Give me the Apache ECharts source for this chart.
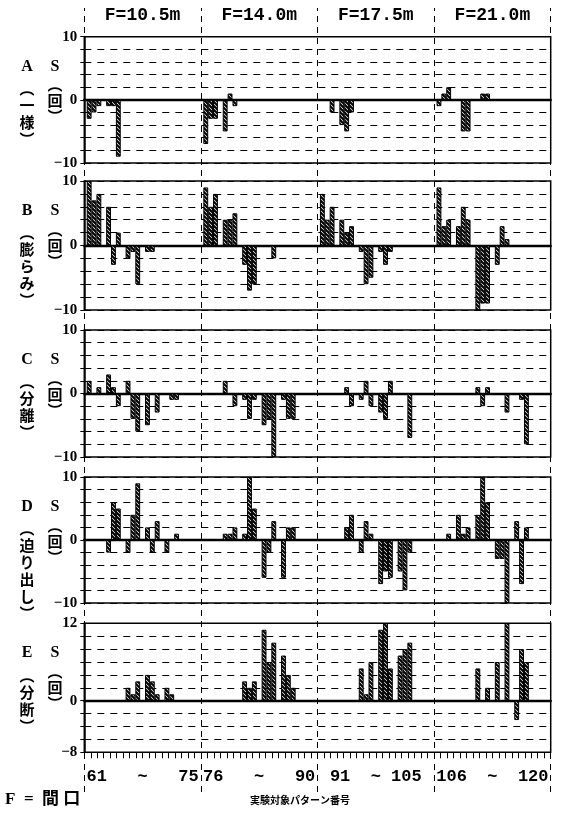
<!DOCTYPE html>
<html><head><meta charset="utf-8">
<script src="https://cdn.jsdelivr.net/npm/echarts@6/dist/echarts.min.js"></script>
<style>html,body{margin:0;padding:0;background:#fff}#c{width:562px;height:813px}</style>
</head><body><div id="c"></div>
<script>
// ---------- data ----------
const groupNames = ['F=10.5m', 'F=14.0m', 'F=17.5m', 'F=21.0m'];
const rangeLabels = ['61   ~   75', '76   ~   90', '91  ~ 105', '106  ~  120'];
const panelLetters = ['A', 'B', 'C', 'D', 'E'];
const panelNames = ['一様', '膨らみ', '分離', '迫り出し', '分断'];
const yMins = [-10, -10, -10, -10, -8];
const yMaxs = [10, 10, 10, 10, 12];
const yLabelValues = [[10, 0, -10], [10, 0, -10], [10, 0, -10], [10, 0, -10], [12, 0, -8]];

// patterns 61..120, in order (15 per F group)
const valuesA = [
  -3, -2, -1, -1, -1, -9, 0, 0, 0, 0, 0, 0, 0, 0, 0,
  -7, -3, -3, -5, 1, -1, 0, 0, 0, 0, 0, 0, 0, 0, 0,
  0, 0, -2, -4, -5, -2, 0, 0, 0, 0, 0, 0, 0, 0, 0,
  -1, 1, 2, 0, -5, -5, 0, 1, 1, 0, 0, 0, 0, 0, 0
];
const valuesB = [
  10, 7, 8, 6, -3, 2, -2, -1, -6, -1, -1, 0, 0, 0, 0,
  9, 6, 8, 4, 4, 5, -3, -7, -6, 0, 0, -2, 0, 0, 0,
  8, 4, 6, 4, 2, 3, -1, -6, -5, -1, -3, -1, 0, 0, 0,
  9, 3, 4, 3, 6, 4, -10, -9, -9, -3, 3, 1, 0, 0, 0
];
const valuesC = [
  2, 0, 1, 3, 1, -2, 2, -4, -6, -5, 0, -3, 0, -1, -1,
  0, 0, 0, 2, 0, -2, -1, -4, -1, -5, -4, -10, -1, -4, -4,
  0, 0, 0, 0, 1, -2, -1, 2, -2, -3, -4, 2, 0, 0, -7,
  0, 0, 0, 0, 0, 0, 1, -2, 1, 0, 0, -3, 0, -1, -8
];
const valuesD = [
  0, 0, 0, -2, 6, 5, -2, 4, 9, 2, -2, 3, -2, 0, 1,
  0, 0, 0, 1, 1, 2, 1, 10, 5, -6, -2, 3, -6, 2, 2,
  0, 0, 0, 0, 2, 4, -2, 3, 1, -7, -5, -6, -5, -8, -2,
  0, 0, 1, 4, 1, 2, 4, 10, 6, -3, -3, -10, 3, -7, 2
];
const valuesE = [
  0, 0, 0, 0, 0, 0, 2, 1, 3, 4, 3, 1, 2, 1, 0,
  0, 0, 0, 0, 0, 0, 3, 2, 3, 11, 6, 9, 7, 4, 2,
  0, 0, 0, 0, 0, 0, 5, 1, 6, 11, 12, 5, 7, 8, 9,
  0, 0, 0, 0, 0, 0, 5, 0, 2, 6, 0, 12, -3, 8, 6
];
const panels = [valuesA, valuesB, valuesC, valuesD, valuesE];

// ---------- layout ----------
const L = 84.3, W = 466.4;
const tops = [36.7, 181, 330, 477, 623.3];
const heights = [126.3, 129, 127, 126, 129];
const SLOTS = 97;              // 24 slots per F group, boundaryGap false
const slotCats = Array.from({ length: SLOTS }, (_, j) => String(j));
const slotPx = W / (SLOTS - 1);

function toSlots(values) {
  const arr = new Array(SLOTS).fill('-');
  values.forEach((v, i) => {
    const g = Math.floor(i / 15), r = i % 15;
    const slot = 24 * g + 1 + Math.floor(r / 3) * 4 + (r % 3);
    arr[slot] = v === 0 ? '-' : v;
  });
  return arr;
}

// hatch pattern
const pc = document.createElement('canvas');
pc.width = 4; pc.height = 4;
const px = pc.getContext('2d');
px.fillStyle = '#fff'; px.fillRect(0, 0, 4, 4);
px.strokeStyle = '#000'; px.lineWidth = 2.1;
px.beginPath();
px.moveTo(-1, -1); px.lineTo(5, 5);
px.moveTo(-1, 3); px.lineTo(1, 5);
px.moveTo(3, -1); px.lineTo(5, 1);
px.stroke();
const hatch = { image: pc, repeat: 'repeat' };

const grids = [], xAxes = [], yAxes = [], series = [], graphics = [];
const monoFont = 'Liberation Mono';
const serifFont = 'Liberation Serif';

panels.forEach((vals, p) => {
  grids.push({ left: L, width: W, top: tops[p], height: heights[p], show: true,
    borderColor: '#000', borderWidth: 1.5, backgroundColor: 'transparent' });
  xAxes.push({ gridIndex: p, type: 'category', data: slotCats, boundaryGap: false,
    axisLine: { onZero: true, lineStyle: { color: '#000', width: 2.4 } },
    axisTick: { show: false }, axisLabel: { show: false }, splitLine: { show: false } });
  const labs = yLabelValues[p];
  yAxes.push({ gridIndex: p, type: 'value', min: yMins[p], max: yMaxs[p], interval: 2,
    axisLine: { show: true, lineStyle: { color: '#000', width: 1.5 } },
    axisTick: { show: true, length: 4, lineStyle: { color: '#000' } },
    splitLine: { show: true, lineStyle: { color: '#000', type: [7, 6], width: 1 } },
    axisLabel: { color: '#000', fontFamily: serifFont, fontWeight: 'bold', fontSize: 15, margin: 7,
      showMinLabel: true, showMaxLabel: true,
      formatter: v => labs.indexOf(v) >= 0 ? String(v).replace('-', '−') : '' } });
  series.push({ type: 'bar', xAxisIndex: p, yAxisIndex: p, data: toSlots(vals),
    barWidth: slotPx, silent: true, animation: false,
    itemStyle: { color: hatch, borderColor: '#000', borderWidth: 1 } });

  const t = tops[p];
  graphics.push({ type: 'text', x: 27, y: t + 22, style: { text: panelLetters[p],
    font: 'bold 16px "Liberation Serif"', fill: '#000', textAlign: 'center' } });
  graphics.push({ type: 'text', x: 55, y: t + 22, style: { text: 'S',
    font: 'bold 16px "Liberation Serif"', fill: '#000', textAlign: 'center' } });
  graphics.push({ type: 'text', x: 27, y: t + 43, style: {
    text: ['︵'].concat(panelNames[p].split('')).concat(['︶']).join('\n'),
    font: 'bold 15px "Noto Sans CJK JP"', lineHeight: 17, fill: '#000', textAlign: 'center' } });
  graphics.push({ type: 'text', x: 55, y: t + 40, style: { text: '︵\n回\n︶',
    font: 'bold 15px "Noto Sans CJK JP"', lineHeight: 16, fill: '#000', textAlign: 'center' } });
});

// header labels (top of panel A)
xAxes.push({ gridIndex: 0, type: 'category', data: groupNames, position: 'top', boundaryGap: true,
  axisLine: { show: false }, axisTick: { show: false }, splitLine: { show: false },
  axisLabel: { interval: 0, color: '#000', fontFamily: monoFont, fontWeight: 'bold', fontSize: 18, margin: 12 } });
// bottom range labels (panel E)
xAxes.push({ gridIndex: 4, type: 'category', data: rangeLabels, position: 'bottom', boundaryGap: true,
  axisLine: { show: false }, axisTick: { show: false }, splitLine: { show: false },
  axisLabel: { interval: 0, hideOverlap: false, color: '#000', fontFamily: monoFont, fontWeight: 'bold', fontSize: 17, margin: 16 } });
// bottom fine ticks (panel E)
xAxes.push({ gridIndex: 4, type: 'value', min: 0, max: 72, interval: 1, position: 'bottom',
  axisLine: { show: false }, axisLabel: { show: false }, splitLine: { show: false },
  axisTick: { show: true, length: 6, lineStyle: { color: '#000', width: 1 } } });

// overlay grid for the group dividers
grids.push({ left: L, width: W, top: 8, height: 784, show: false });
xAxes.push({ gridIndex: 5, type: 'category', data: slotCats, boundaryGap: false, show: false });
yAxes.push({ gridIndex: 5, type: 'value', min: 0, max: 1, show: false });
const dividerSlots = [0, 24, 48, 72, 96];
series.push({ type: 'line', xAxisIndex: xAxes.length - 1, yAxisIndex: 5,
  data: new Array(SLOTS).fill('-'), silent: true, animation: false, symbol: 'none',
  markLine: { silent: true, symbol: 'none', animation: false, label: { show: false },
    lineStyle: { color: '#000', type: [6, 5], width: 1 },
    data: dividerSlots.map(s => ({ xAxis: s })) } });

graphics.push({ type: 'text', x: 5, y: 791, style: { text: 'F  =  間 口',
  font: 'bold 17px "Liberation Serif", "Noto Sans CJK JP"', fill: '#000', textAlign: 'left' } });
graphics.push({ type: 'text', x: 300, y: 795, style: { text: '実験対象パターン番号',
  font: 'bold 10px "Noto Sans CJK JP"', fill: '#000', textAlign: 'center' } });

const chart = echarts.init(document.getElementById('c'), null, { renderer: 'canvas' });
chart.setOption({
  animation: false,
  backgroundColor: '#fff',
  grid: grids, xAxis: xAxes, yAxis: yAxes, series: series, graphic: graphics
});
</script></body></html>
